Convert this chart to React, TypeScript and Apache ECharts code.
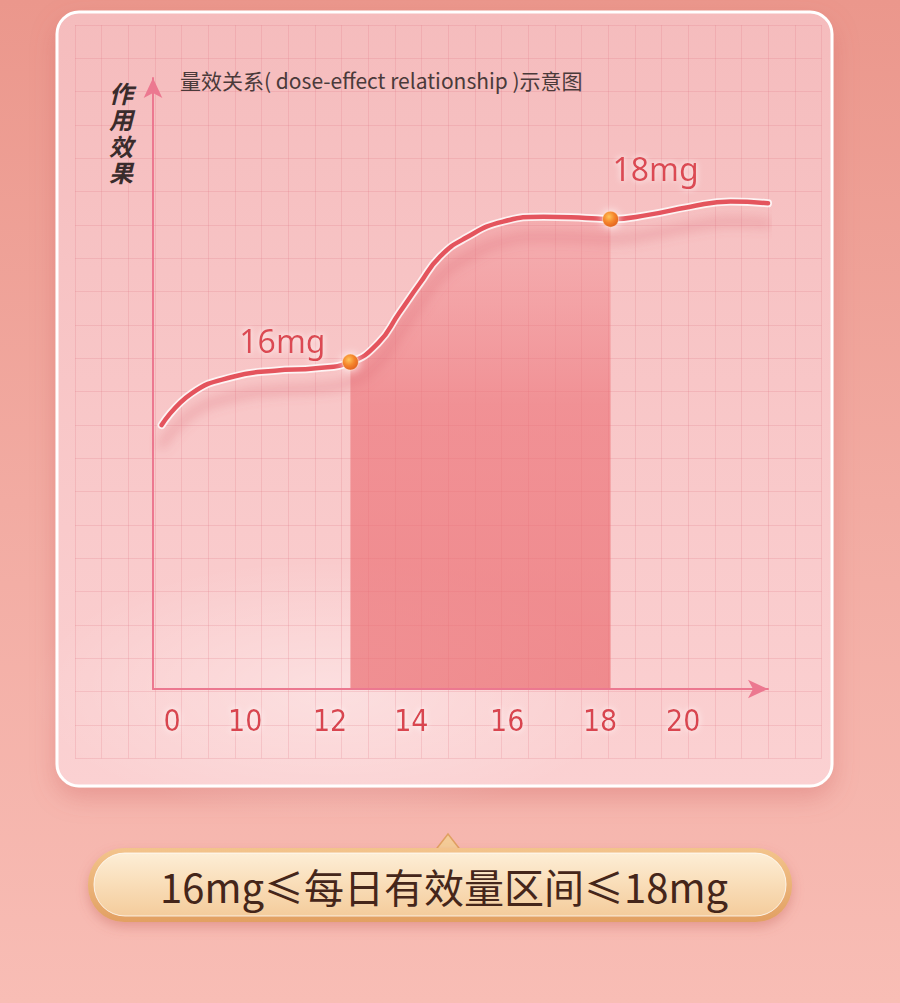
import React, { useEffect, useRef } from "react";
import * as echarts from "echarts";

// ---- data ----
const curveX = [1.4, 6.3, 13.0, 19.8, 26.5, 32.1, 36.6, 40.0, 43.4, 46.7, 50.8, 56.9, 63.5, 70.4, 74.4, 80.5, 87.2, 93.9, 100];
const curveY = [43.2, 48.4, 51.1, 52.1, 52.5, 53.5, 56.6, 61.5, 66.4, 70.8, 73.8, 76.5, 77.3, 77.1, 76.9, 77.6, 78.9, 79.8, 79.5];
const markerLabels = ["16mg", "18mg"];
const markerX = [32.1, 74.4];
const markerY = [53.5, 76.9];
const tickPositions = [3.1, 15.0, 28.8, 42.0, 57.6, 72.7, 86.2];
const tickLabels = ["0", "10", "12", "14", "16", "18", "20"];
const titleText = "量效关系( dose-effect relationship )示意图";
const yAxisName = "作用效果";
const bannerText = "16mg≤每日有效量区间≤18mg";

const nearestIdx = (v: number) => {
  let best = 0;
  tickPositions.forEach((p, i) => {
    if (Math.abs(p - v) < Math.abs(tickPositions[best] - v)) best = i;
  });
  return best;
};

export default function App() {
  const ref = useRef<HTMLDivElement>(null);
  useEffect(() => {
    document.body.style.margin = "0";
    const chart = echarts.init(ref.current!, undefined, { renderer: "svg" });
    const curveData = curveX.map((x, i) => [x, curveY[i]]);
    const shadeData = curveData.filter(([x]) => x >= markerX[0] && x <= markerX[1]);
    const axisColor = "#ec7890";
    const gridLine = "rgba(222,118,130,0.22)";
    const SMOOTH = 0.5;
    const lin = (stops: [number, string][]) =>
      new echarts.graphic.LinearGradient(0, 0, 0, 1, stops.map(([offset, color]) => ({ offset, color })));

    const yNameChars = yAxisName.split("").map((ch, i) => ({
      type: "text",
      z: 6,
      silent: true,
      x: 121,
      y: 92 + i * 26.6,
      style: {
        text: ch,
        fontSize: 24,
        fontWeight: "bold",
        fontStyle: "italic",
        fontFamily: "'Noto Sans CJK SC', sans-serif",
        fill: "#3a2c2c",
        align: "center",
        verticalAlign: "middle",
        textAlign: "center",
        textVerticalAlign: "middle",
      },
    }));

    const option: any = {
      animation: false,
      title: {
        text: titleText,
        left: 175,
        top: 64,
        z: 6,
        textStyle: { fontSize: 21, fontWeight: "normal", color: "#4a3a3a", fontFamily: "'Noto Sans CJK SC', sans-serif" },
      },
      grid: [
        { left: 153, top: 78, width: 615, height: 611 },
        { left: 75, top: 25, width: 746.67, height: 733.33 },
      ],
      xAxis: [
        {
          gridIndex: 0,
          type: "value",
          min: 0,
          max: 100,
          z: 3,
          axisLine: { show: true, lineStyle: { color: axisColor, width: 2 }, symbol: ["none", "arrow"], symbolSize: [14, 20] },
          axisTick: { show: false },
          splitLine: { show: false },
          axisLabel: {
            show: true,
            customValues: tickPositions,
            formatter: (v: number) => tickLabels[nearestIdx(v)],
            margin: 16,
            fontSize: 30,
            color: "#d9444f",
            fontFamily: "'Liberation Sans Narrow', 'DejaVu Sans Condensed', 'Roboto', sans-serif",
            textShadowColor: "rgba(255,255,255,0.9)",
            textShadowBlur: 6,
          },
        },
        {
          gridIndex: 1,
          type: "value",
          min: 0,
          max: 28,
          interval: 1,
          z: 1,
          axisLine: { show: false },
          axisTick: { show: false },
          axisLabel: { show: false },
          splitLine: { show: true, lineStyle: { color: gridLine, width: 1 } },
        },
      ],
      yAxis: [
        {
          gridIndex: 0,
          type: "value",
          min: 0,
          max: 100,
          z: 3,
          axisLine: { show: true, lineStyle: { color: axisColor, width: 2 }, symbol: ["none", "arrow"], symbolSize: [14, 20] },
          axisTick: { show: false },
          axisLabel: { show: false },
          splitLine: { show: false },
        },
        {
          gridIndex: 1,
          type: "value",
          min: 0,
          max: 22,
          interval: 1,
          z: 1,
          axisLine: { show: false },
          axisTick: { show: false },
          axisLabel: { show: false },
          splitLine: { show: true, lineStyle: { color: gridLine, width: 1 } },
        },
      ],
      series: [
        {
          type: "line",
          xAxisIndex: 0,
          yAxisIndex: 0,
          data: shadeData,
          smooth: SMOOTH,
          showSymbol: false,
          silent: true,
          z: 2,
          lineStyle: { width: 0 },
          areaStyle: {
            color: lin([
              [0, "rgba(238,118,124,0.35)"],
              [0.4, "rgba(236,108,114,0.85)"],
              [1, "rgba(234,106,110,0.97)"],
            ]),
          },
        },
        {
          type: "line",
          xAxisIndex: 0,
          yAxisIndex: 0,
          data: curveData,
          smooth: SMOOTH,
          showSymbol: false,
          silent: true,
          z: 3,
          lineStyle: {
            color: "rgba(255,255,255,0.8)",
            width: 8,
            cap: "round",
            shadowColor: "rgba(214,92,104,0.4)",
            shadowBlur: 12,
            shadowOffsetY: 20,
          },
        },
        {
          type: "line",
          xAxisIndex: 0,
          yAxisIndex: 0,
          data: curveData,
          smooth: SMOOTH,
          showSymbol: false,
          silent: true,
          z: 4,
          lineStyle: { color: "#e4545d", width: 4.5, cap: "round" },
        },
        {
          type: "scatter",
          xAxisIndex: 0,
          yAxisIndex: 0,
          z: 5,
          symbolSize: 16,
          itemStyle: {
            opacity: 1,
            color: new echarts.graphic.RadialGradient(0.4, 0.35, 0.7, [
              { offset: 0, color: "#ffc45a" },
              { offset: 0.5, color: "#f5862c" },
              { offset: 1, color: "#e05d1e" },
            ]),
            borderColor: "rgba(255,230,200,0.5)",
            borderWidth: 1,
            shadowBlur: 8,
            shadowColor: "rgba(255,255,255,0.9)",
          },
          label: {
            show: true,
            opacity: 1,
            formatter: "{b}",
            position: "inside",
            fontSize: 32,
            color: "#dc4a52",
            fontFamily: "'Noto Sans', sans-serif",
            textShadowColor: "rgba(255,255,255,0.9)",
            textShadowBlur: 6,
          },
          data: markerX.map((x, i) => ({
            name: markerLabels[i],
            value: [x, markerY[i]],
            label: { offset: i === 0 ? [-68, -22] : [45, -51] },
          })),
        },
      ],
      graphic: [
        {
          type: "rect",
          z: -10,
          silent: true,
          shape: { x: 0, y: 0, width: 900, height: 1003 },
          style: {
            fill: lin([
              [0, "#eb978c"],
              [0.5, "#f2aba2"],
              [1, "#f8bdb5"],
            ]),
          },
        },
        {
          type: "rect",
          z: -9,
          silent: true,
          shape: { x: 57, y: 12, width: 775, height: 774, r: 22 },
          style: {
            fill: lin([
              [0, "#f5bcbd"],
              [1, "#fbd1d2"],
            ]),
            stroke: "#ffffff",
            lineWidth: 3,
            shadowBlur: 24,
            shadowColor: "rgba(205,95,95,0.35)",
            shadowOffsetY: 10,
          },
        },
        {
          type: "ellipse",
          z: -8,
          silent: true,
          shape: { cx: 330, cy: 690, rx: 300, ry: 130 },
          style: {
            fill: new echarts.graphic.RadialGradient(0.5, 0.5, 0.5, [
              { offset: 0, color: "rgba(255,255,255,0.35)" },
              { offset: 1, color: "rgba(255,255,255,0)" },
            ]),
          },
        },
        ...yNameChars,
        {
          type: "polygon",
          z: 9,
          silent: true,
          shape: { points: [[434, 852], [448, 834], [462, 852]] },
          style: { fill: "#f4cc98", stroke: "#e0a062", lineWidth: 1.5 },
        },
        {
          type: "rect",
          z: 10,
          silent: true,
          shape: { x: 88, y: 848, width: 704, height: 74, r: 36 },
          style: {
            fill: lin([
              [0, "#f3c48c"],
              [1, "#e2a062"],
            ]),
            shadowBlur: 12,
            shadowColor: "rgba(190,90,80,0.35)",
            shadowOffsetY: 5,
          },
        },
        {
          type: "rect",
          z: 11,
          silent: true,
          shape: { x: 94, y: 853, width: 692, height: 63, r: 31 },
          style: {
            fill: lin([
              [0, "#fdeed6"],
              [0.5, "#f9ddb8"],
              [1, "#f4cc9c"],
            ]),
            stroke: "rgba(255,255,255,0.75)",
            lineWidth: 1,
          },
        },
        {
          type: "text",
          z: 12,
          silent: true,
          x: 444,
          y: 886,
          style: {
            text: bannerText,
            fontSize: 40,
            fontFamily: "'Noto Sans CJK SC', sans-serif",
            fill: "#45261a",
            align: "center",
            verticalAlign: "middle",
            textAlign: "center",
            textVerticalAlign: "middle",
          },
        },
      ],
    };
    chart.setOption(option);
    return () => chart.dispose();
  }, []);
  return <div ref={ref} style={{ width: 900, height: 1003, position: "absolute", left: 0, top: 0 }} />;
}
